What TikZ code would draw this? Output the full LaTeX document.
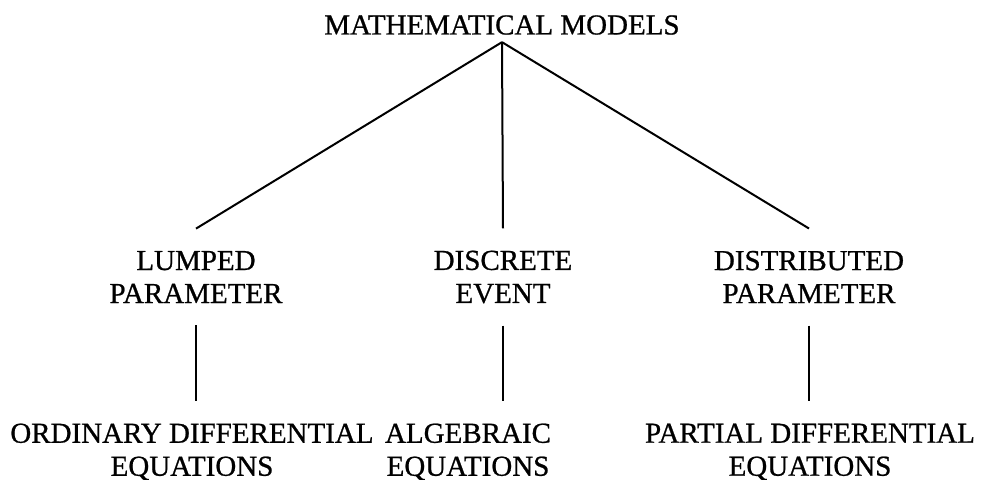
\documentclass[tikz,border=0pt]{standalone}
\usepackage{fontspec}
\setmainfont[FakeBold=0.8]{Liberation Serif}
\usetikzlibrary{calc}

\begin{document}
\begin{tikzpicture}[
x=0.5pt,y=-0.5pt,
every node/.style={align=center,inner sep=11pt,font=\fontsize{14.5}{16.5}\selectfont},
link/.style={line width=1pt}]
\useasboundingbox (0,0) rectangle (982,479);
\node[inner sep=3.5pt] (models) at (502,25) {MATHEMATICAL MODELS};
\node (lumped) at (196,277) {LUMPED\\PARAMETER};
\node (discrete) at (503,277) {DISCRETE\\EVENT};
\node (distributed) at (809,277) {DISTRIBUTED\\PARAMETER};
\node (ordinary) at (192,452) {ORDINARY DIFFERENTIAL\\EQUATIONS};
\node (algebraic) at (468,452) {ALGEBRAIC\\EQUATIONS};
\node (partial) at (810,452) {PARTIAL DIFFERENTIAL\\EQUATIONS};
\draw[link] (models.south)--(lumped.north);
\draw[link] (models.south)--(discrete.north);
\draw[link] (models.south)--(distributed.north);
\draw[link] (lumped.south)--(lumped.south |- ordinary.north);
\draw[link] (discrete.south)--(discrete.south |- algebraic.north);
\draw[link] (distributed.south)--(distributed.south |- partial.north);
\end{tikzpicture}
\end{document}
